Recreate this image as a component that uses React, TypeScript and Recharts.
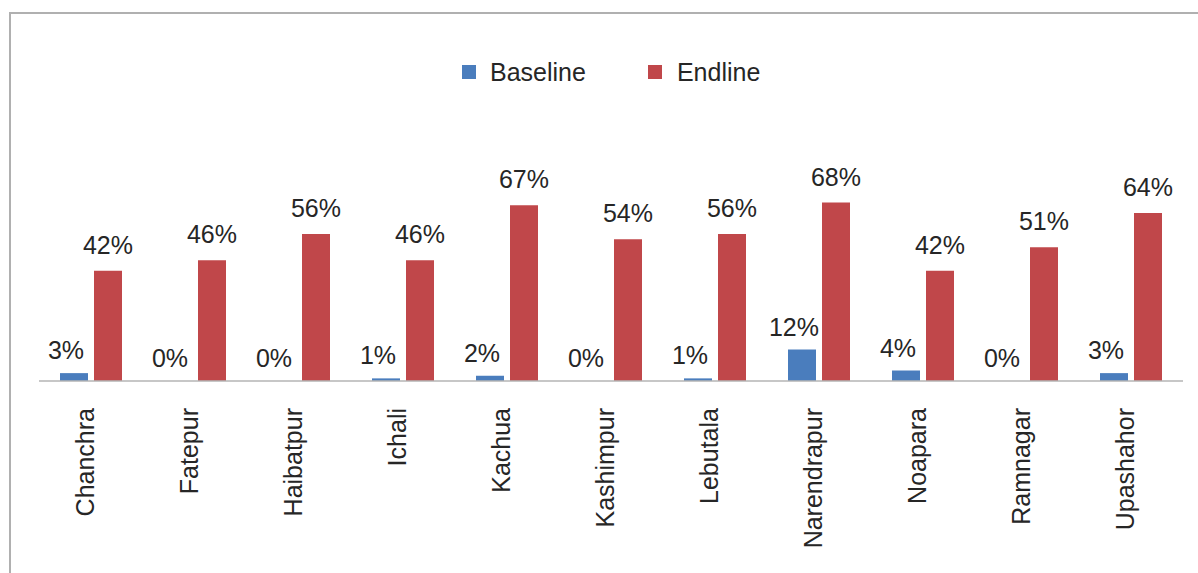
import { Bar, BarChart, Rectangle, XAxis, YAxis } from "recharts";

const villages = [
  "Chanchra",
  "Fatepur",
  "Haibatpur",
  "Ichali",
  "Kachua",
  "Kashimpur",
  "Lebutala",
  "Narendrapur",
  "Noapara",
  "Ramnagar",
  "Upashahor"
];
const baseline = [3, 0, 0, 1, 2, 0, 1, 12, 4, 0, 3];
const endline = [42, 46, 56, 46, 67, 54, 56, 68, 42, 51, 64];

const data = villages.map((name, i) => ({
  name,
  baseline: baseline[i],
  endline: endline[i]
}));

const FONT = "'Liberation Sans', Arial, sans-serif";
const TEXT = "#262626";
const BLUE = "#4a7dbd";
const RED = "#c0474a";
const FS = 25;

const VillageTick = (props: any) => {
  const { x, y, payload } = props;
  const tx = x - 6;
  const ty = y + 19;
  return (
    <text
      x={tx}
      y={ty}
      transform={`rotate(-90 ${tx} ${ty})`}
      textAnchor="end"
      dominantBaseline="central"
      fontSize={FS}
      fontFamily={FONT}
      fill={TEXT}
    >
      {payload.value}
    </text>
  );
};

// draws the bar plus its value label (zero bars still get "0%")
const barWithLabel = (dx: number, gap: number, key: string) => (props: any) => {
  const { x, y, width, height, fill, payload } = props;
  return (
    <g>
      {height > 0 && <Rectangle x={x} y={y} width={width} height={height} fill={fill} />}
      <text
        x={x + width / 2 + dx}
        y={y - gap}
        textAnchor="middle"
        fontSize={FS}
        fontFamily={FONT}
        fill={TEXT}
      >
        {payload[key]}%
      </text>
    </g>
  );
};

export default function App() {
  return (
    <div
      style={{
        position: "absolute",
        left: 0,
        top: 0,
        width: 1198,
        height: 573,
        overflow: "hidden",
        background: "#fff"
      }}
    >
      <div
        style={{
          position: "absolute",
          left: 9,
          top: 12,
          width: 1300,
          height: 700,
          borderLeft: "2px solid #b0b0b0",
          borderTop: "2px solid #b0b0b0"
        }}
      />
      <div
        style={{
          position: "absolute",
          left: 462,
          top: 58,
          display: "flex",
          alignItems: "center",
          fontFamily: FONT,
          fontSize: FS,
          color: TEXT,
          lineHeight: "28px"
        }}
      >
        <span style={{ width: 14, height: 14, background: BLUE, display: "inline-block" }} />
        <span style={{ marginLeft: 14 }}>Baseline</span>
        <span
          style={{ width: 14, height: 14, background: RED, display: "inline-block", marginLeft: 62 }}
        />
        <span style={{ marginLeft: 15 }}>Endline</span>
      </div>
      <div style={{ position: "absolute", left: 0, top: 0 }}>
        <BarChart
          width={1198}
          height={573}
          data={data}
          margin={{ top: 171, right: 15, bottom: 42, left: 39 }}
          barSize={28}
          barGap={6}
        >
          <XAxis
            dataKey="name"
            height={150}
            interval={0}
            tickLine={false}
            axisLine={{ stroke: "#b4b4b4", strokeWidth: 1.5 }}
            tick={<VillageTick />}
          />
          <YAxis hide domain={[0, 80]} />
          <Bar
            dataKey="baseline"
            fill={BLUE}
            isAnimationActive={false}
            shape={barWithLabel(-8, 14, "baseline")}
          />
          <Bar
            dataKey="endline"
            fill={RED}
            isAnimationActive={false}
            shape={barWithLabel(0, 17, "endline")}
          />
        </BarChart>
      </div>
    </div>
  );
}
